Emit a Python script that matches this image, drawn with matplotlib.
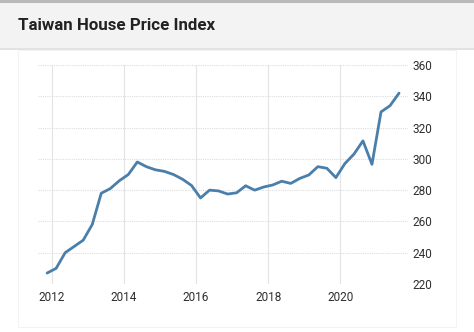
import numpy as np
import matplotlib
matplotlib.use('Agg')
import matplotlib.pyplot as plt
from matplotlib.patches import Rectangle

TITLE = 'Taiwan House Price Index'

# quarterly index, 2011Q4 .. 2021Q3
quarters = ['2011Q4',
            '2012Q1', '2012Q2', '2012Q3', '2012Q4',
            '2013Q1', '2013Q2', '2013Q3', '2013Q4',
            '2014Q1', '2014Q2', '2014Q3', '2014Q4',
            '2015Q1', '2015Q2', '2015Q3', '2015Q4',
            '2016Q1', '2016Q2', '2016Q3', '2016Q4',
            '2017Q1', '2017Q2', '2017Q3', '2017Q4',
            '2018Q1', '2018Q2', '2018Q3', '2018Q4',
            '2019Q1', '2019Q2', '2019Q3', '2019Q4',
            '2020Q1', '2020Q2', '2020Q3', '2020Q4',
            '2021Q1', '2021Q2', '2021Q3']
index_values = [227,
                230, 240, 244, 248,
                258, 278, 281, 286,
                290, 298, 295, 293,
                292, 290, 287, 283,
                275, 280, 279.5, 277.5,
                278.3, 282.8, 280, 282,
                283.3, 285.7, 284.3, 287.5,
                289.7, 295, 294, 288,
                297, 303, 311.5, 296.5,
                330, 334, 342]
year_ticks = [2012, 2014, 2016, 2018, 2020]
value_ticks = [220, 240, 260, 280, 300, 320, 340, 360]

W, H = 474, 332

def quarter_to_x(q):
    # middle of the quarter, as decimal year
    return int(q[:4]) + (int(q[-1]) - 1) / 4 + 0.125

xs = [quarter_to_x(q) for q in quarters]

fig = plt.figure(figsize=(W / 100, H / 100), dpi=100)
fig.patch.set_facecolor('white')

# header band + card frame
fig.patches.append(Rectangle((0, (H - 3) / H), 1, 3 / H, transform=fig.transFigure,
                             facecolor='#b9b9b9', edgecolor='none', zorder=0))
fig.patches.append(Rectangle((0, (H - 48) / H), 1, 45 / H, transform=fig.transFigure,
                             facecolor='#f3f3f3', edgecolor='none', zorder=0))
fig.patches.append(Rectangle((0, (H - 50) / H), 1, 2 / H, transform=fig.transFigure,
                             facecolor='#e2e2e2', edgecolor='none', zorder=0))
fig.patches.append(Rectangle((18 / W, (H - 327) / H), (456 - 18) / W, (327 - 50) / H,
                             transform=fig.transFigure, facecolor='none',
                             edgecolor='#f3f3f3', lw=0.8, zorder=0))

fig.text(18 / W, (H - 25) / H, TITLE, fontsize=12.2, fontweight='bold',
         family='Roboto', color='#222222', ha='left', va='center')

ax = fig.add_axes([38 / W, (H - 284) / H, (408 - 38) / W, (284 - 65) / H])
ax.set_facecolor('none')
ax.plot(xs, index_values, color='#4a7eab', lw=2.0, solid_joinstyle='round',
        solid_capstyle='round', zorder=3)

ax.set_xlim(2011.623, 2021.873)
ax.set_ylim(220, 360)
ax.set_xticks(year_ticks)
ax.set_yticks(value_ticks)
ax.yaxis.tick_right()
for s in ax.spines.values():
    s.set_visible(False)
ax.tick_params(axis='both', length=0, labelsize=8.5, colors='#2e2e2e')
ax.tick_params(axis='x', pad=5)
ax.tick_params(axis='y', pad=3)
for lab in ax.get_xticklabels() + ax.get_yticklabels():
    lab.set_family('Roboto')
ax.grid(axis='x', color='#e4e4e4', lw=0.8, linestyle='-')
ax.grid(axis='y', color='#dddddd', lw=0.8, linestyle=(0, (1, 1)))

fig.savefig('out.png', dpi=100)
